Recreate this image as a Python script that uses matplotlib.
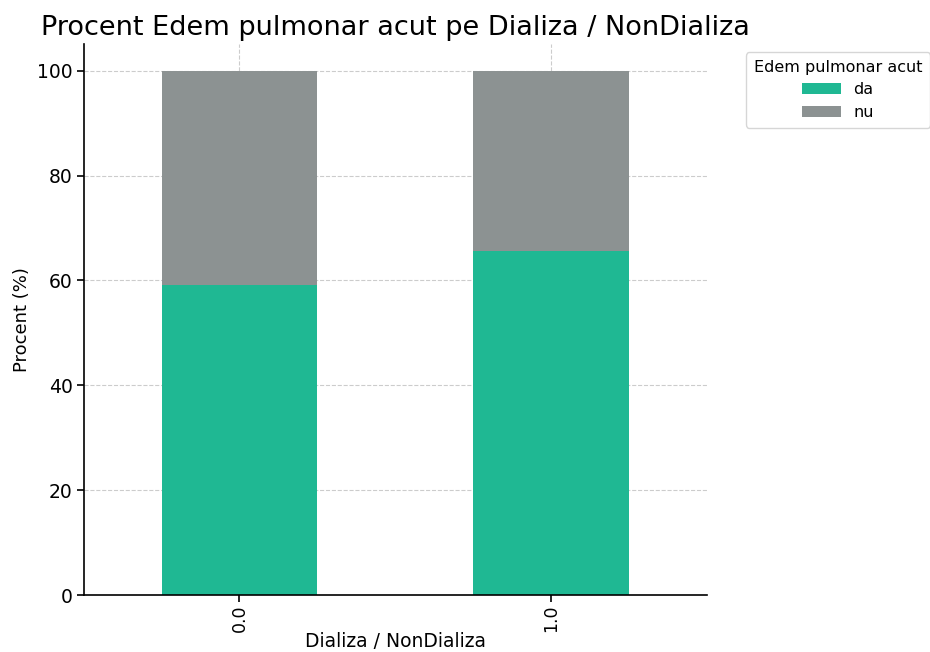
import numpy as np
import pandas as pd
import matplotlib
matplotlib.use('Agg')
import matplotlib.pyplot as plt

# data
groups = ['0.0', '1.0']
da = [59.2, 65.7]
nu = [100 - v for v in da]
series_names = ['da', 'nu']
colors = ['#1fb893', '#8c9292']

df = pd.DataFrame({'da': da, 'nu': nu}, index=groups)

fig = plt.figure(figsize=(9.3, 6.52), dpi=100)
ax = fig.add_axes([0.090, 0.087, 0.670, 0.845])

df.plot(kind='bar', stacked=True, color=colors, width=0.5, ax=ax, legend=False, zorder=2)

ax.set_xlim(-0.5, 1.5)
ax.set_ylim(0, 105)
ax.set_yticks([0, 20, 40, 60, 80, 100])
ax.grid(True, linestyle='--', color='#cccccc', linewidth=0.8, zorder=0)
ax.set_axisbelow(True)
ax.spines['top'].set_visible(False)
ax.spines['right'].set_visible(False)
ax.spines['left'].set_linewidth(1.2)
ax.spines['bottom'].set_linewidth(1.2)
ax.tick_params(axis='both', labelsize=13.5, length=5, width=1.2, pad=3)
ax.tick_params(axis='x', labelsize=12.5, pad=2)
plt.setp(ax.get_xticklabels(), rotation=90)

ax.set_title('Procent Edem pulmonar acut pe Dializa / NonDializa', fontsize=19.5, pad=7)
ax.set_xlabel('Dializa / NonDializa', fontsize=13.5, labelpad=0)
ax.set_ylabel('Procent (%)', fontsize=13)

ax.legend(series_names, title='Edem pulmonar acut', loc='upper left',
          bbox_to_anchor=(1.05, 1.0), fontsize=11.5, title_fontsize=11.5,
          labelspacing=0.45, borderpad=0.5, handlelength=2.4)

fig.savefig('out.png', dpi=100)
